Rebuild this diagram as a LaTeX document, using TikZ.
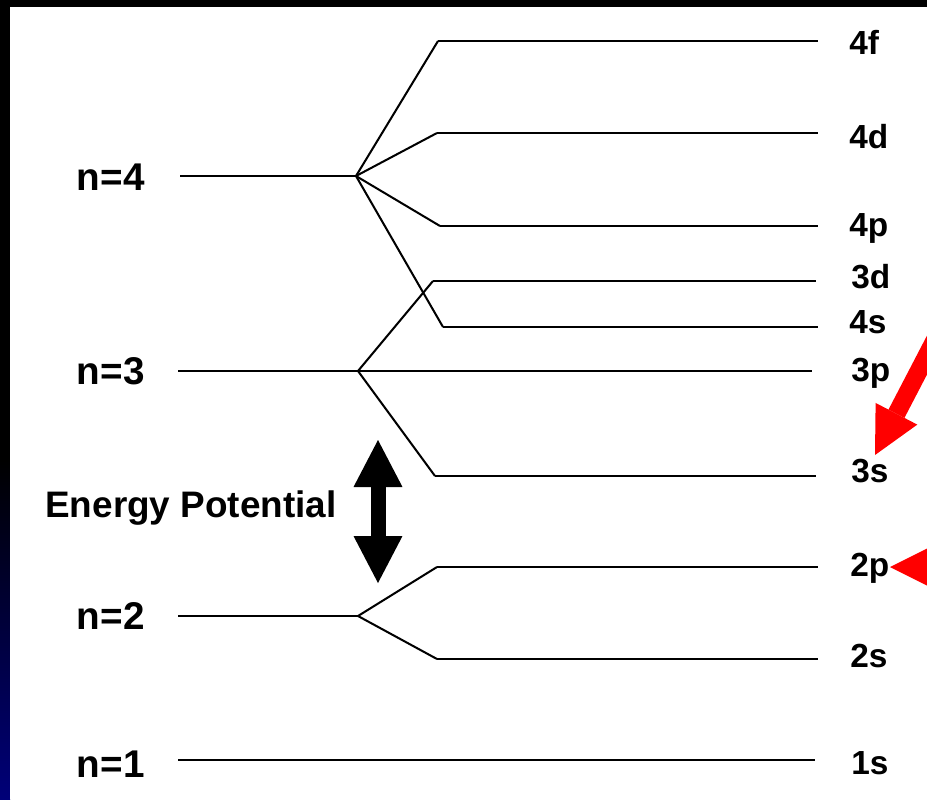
\documentclass[tikz,border=0pt]{standalone}
\usepackage{fontspec}
\setmainfont{Liberation Sans}
\usepackage{tikz}
\usetikzlibrary{arrows.meta, positioning, calc}
\definecolor{frameNavy}{RGB}{0,0,120}
\definecolor{pointerRed}{RGB}{255,0,0}

\begin{document}
\begin{tikzpicture}[
        x=0.02cm, y=-0.02cm,
        shellline/.style={line width=1.5pt},
        branchline/.style={line width=1.15pt},
        orb/.style={anchor=base west, inner sep=0pt, font=\fontsize{19}{21}\selectfont\bfseries},
        shell/.style={anchor=base east, inner sep=0pt, font=\fontsize{22}{24}\selectfont\bfseries},
        potarrow/.style={line width=0.3cm, {Triangle[length=0.94cm, width=0.98cm, line width=0pt]}-{Triangle[length=0.94cm, width=0.98cm, line width=0pt]}},
        redarrow/.style={draw=pointerRed, line width=0.36cm, -{Triangle[length=0.93cm, width=0.94cm, line width=0pt]}}
    ]
        % Frame
        \useasboundingbox (0,0) rectangle (927,799);
        \fill[black] (0,0) rectangle (927,799);
        \shade[top color=black, bottom color=frameNavy] (0,460) rectangle (10,799);
        \fill[white] (10,7) rectangle (927,799);

        % Shell n=4
        \coordinate (n4L) at (180,176);
        \coordinate (n4B) at (356,176);
        \draw[shellline] (n4L) -- (n4B);
        \node[shell] (ln4) at (145,190) {n=4};
        \foreach \nm/\ex/\ey/\ly in {4f/438/41/54, 4d/437/133/148, 4p/440/226/236, 4s/443/327/333} {
            \coordinate (k\nm) at (\ex,\ey);
            \coordinate (e\nm) at (818,\ey);
            \draw[branchline] (n4B) -- (k\nm);
            \draw[shellline] (k\nm) -- (e\nm);
            \node[orb] (l\nm) at (849,\ly) {\nm};
        }

        % Shell n=3
        \coordinate (n3L) at (178,371);
        \coordinate (n3B) at (358,371);
        \coordinate (e3p) at (812,371);
        \draw[shellline] (n3L) -- (e3p);
        \node[shell] (ln3) at (145,384) {n=3};
        \node[orb] (l3p) at (851,381) {3p};
        \foreach \nm/\ex/\ey/\ly in {3d/433/281/288, 3s/435/476/482} {
            \coordinate (k\nm) at (\ex,\ey);
            \coordinate (e\nm) at (816,\ey);
            \draw[branchline] (n3B) -- (k\nm);
            \draw[shellline] (k\nm) -- (e\nm);
            \node[orb] (l\nm) at (851,\ly) {\nm};
        }

        % Shell n=2
        \coordinate (n2L) at (178,616);
        \coordinate (n2B) at (358,616);
        \draw[shellline] (n2L) -- (n2B);
        \node[shell] (ln2) at (145,629) {n=2};
        \foreach \nm/\ex/\ey/\ly in {2p/437/567/576, 2s/437/659/667} {
            \coordinate (k\nm) at (\ex,\ey);
            \coordinate (e\nm) at (818,\ey);
            \draw[branchline] (n2B) -- (k\nm);
            \draw[shellline] (k\nm) -- (e\nm);
            \node[orb] (l\nm) at (850,\ly) {\nm};
        }

        % Shell n=1
        \coordinate (n1L) at (178,760);
        \coordinate (e1s) at (815,760);
        \draw[shellline] (n1L) -- (e1s);
        \node[shell] (ln1) at (145,777) {n=1};
        \node[orb] (l1s) at (851,774) {1s};

        % Energy potential
        \node[anchor=base west, inner sep=0pt, font=\fontsize{21}{24}\selectfont\bfseries] (epot) at (45,517) {Energy Potential};
        \coordinate (potTop) at (378,440);
        \coordinate (potBot) at (378,583);
        \draw[potarrow] (potTop) -- (potBot);

        % Red pointers
        \begin{scope}
            \clip (0,0) rectangle (927,799);
            \coordinate (r1s) at (952,307);
            \coordinate (r1t) at (875,455);
            \draw[redarrow] (r1s) -- (r1t);
            \coordinate (r2s) at (1000,567);
            \coordinate (r2t) at (890,567);
            \draw[redarrow, -{Triangle[length=1.0cm, width=1.0cm, line width=0pt]}] (r2s) -- (r2t);
        \end{scope}
    \end{tikzpicture}
\end{document}
